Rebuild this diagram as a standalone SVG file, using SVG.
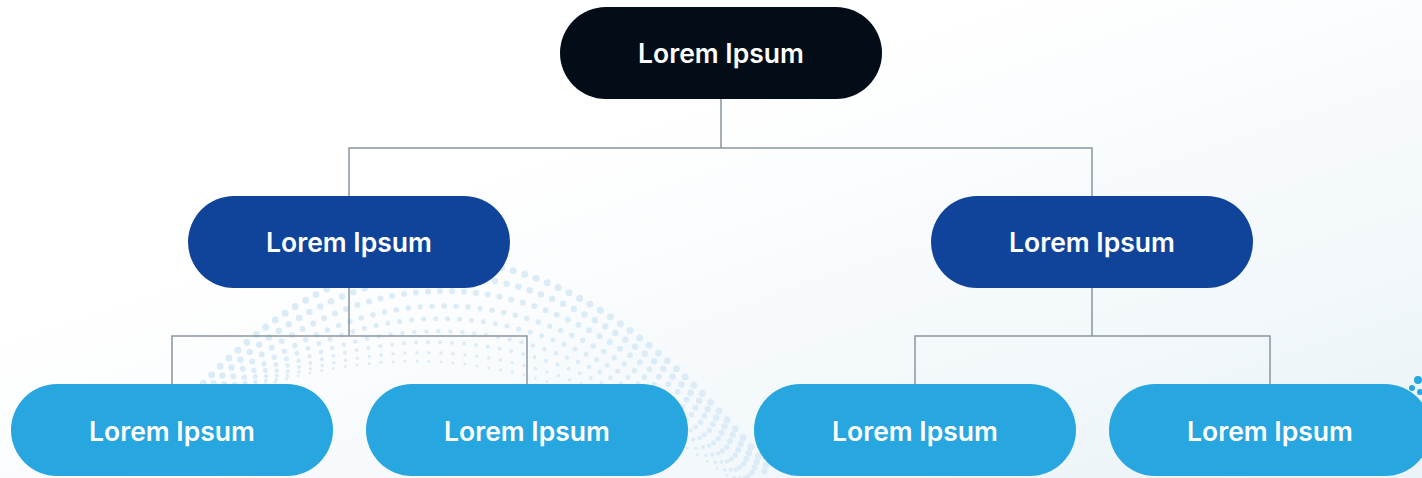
<svg xmlns="http://www.w3.org/2000/svg" width="1422" height="478" viewBox="0 0 1422 478">
<defs>
<linearGradient id="bg" x1="0" y1="0" x2="1" y2="1">
<stop offset="0.35" stop-color="#ffffff"/>
<stop offset="1" stop-color="#eaf3f8"/>
</linearGradient>
<style>
.n text{font-family:Inter,"Noto Sans",sans-serif;font-size:26.5px;font-weight:600;fill:#ffffff;text-anchor:middle;dominant-baseline:central}
.c{fill:none;stroke:#8a959e;stroke-width:1.5}
.d{fill:none;stroke:#dcecf7;stroke-linecap:round;stroke-dasharray:0 12}
</style>
</defs>
<rect width="1422" height="478" fill="url(#bg)"/>
<g id="dots">
<path class="d" stroke-width="7" d="M195,392 Q470,95 770,470"/>
<path class="d" stroke-width="6.5" d="M205,392 Q475,125 765,472"/>
<path class="d" stroke-width="6" d="M215,392 Q480,155 760,474"/>
<path class="d" stroke-width="5.5" d="M225,392 Q485,185 755,476"/>
<path class="d" stroke-width="5" d="M235,390 Q490,212 750,478"/>
<path class="d" stroke-width="4.5" d="M245,388 Q495,240 745,478"/>
<path class="d" stroke-width="4" d="M255,386 Q500,265 740,478"/>
<path class="d" stroke-width="3.5" d="M265,384 Q505,290 735,478"/>
<path class="d" stroke-width="3" d="M275,382 Q510,312 730,478"/>
</g>
<g id="deco">
<circle cx="1418" cy="380" r="4" fill="#27a6e0"/>
<circle cx="1412" cy="388" r="3" fill="#27a6e0"/>
<circle cx="1420" cy="392" r="3" fill="#27a6e0"/>
</g>
<g id="connectors">
<path class="c" d="M721,99 V148 M349,196 V148 H1092 V196"/>
<path class="c" d="M349,288 V336 M172,384 V336 H527 V384"/>
<path class="c" d="M1092,288 V336 M915,384 V336 H1270 V384"/>
</g>
<g id="root" class="n"><rect x="560" y="7" width="322" height="92" rx="46" fill="#020d18"/><text x="721" y="53">Lorem Ipsum</text></g>
<g id="mid-left" class="n"><rect x="188" y="196" width="322" height="92" rx="46" fill="#10449a"/><text x="349" y="242">Lorem Ipsum</text></g>
<g id="mid-right" class="n"><rect x="931" y="196" width="322" height="92" rx="46" fill="#10449a"/><text x="1092" y="242">Lorem Ipsum</text></g>
<g id="leaf-1" class="n"><rect x="11" y="384" width="322" height="92" rx="46" fill="#27a6e0"/><text x="172" y="431">Lorem Ipsum</text></g>
<g id="leaf-2" class="n"><rect x="366" y="384" width="322" height="92" rx="46" fill="#27a6e0"/><text x="527" y="431">Lorem Ipsum</text></g>
<g id="leaf-3" class="n"><rect x="754" y="384" width="322" height="92" rx="46" fill="#27a6e0"/><text x="915" y="431">Lorem Ipsum</text></g>
<g id="leaf-4" class="n"><rect x="1109" y="384" width="322" height="92" rx="46" fill="#27a6e0"/><text x="1270" y="431">Lorem Ipsum</text></g>
</svg>
